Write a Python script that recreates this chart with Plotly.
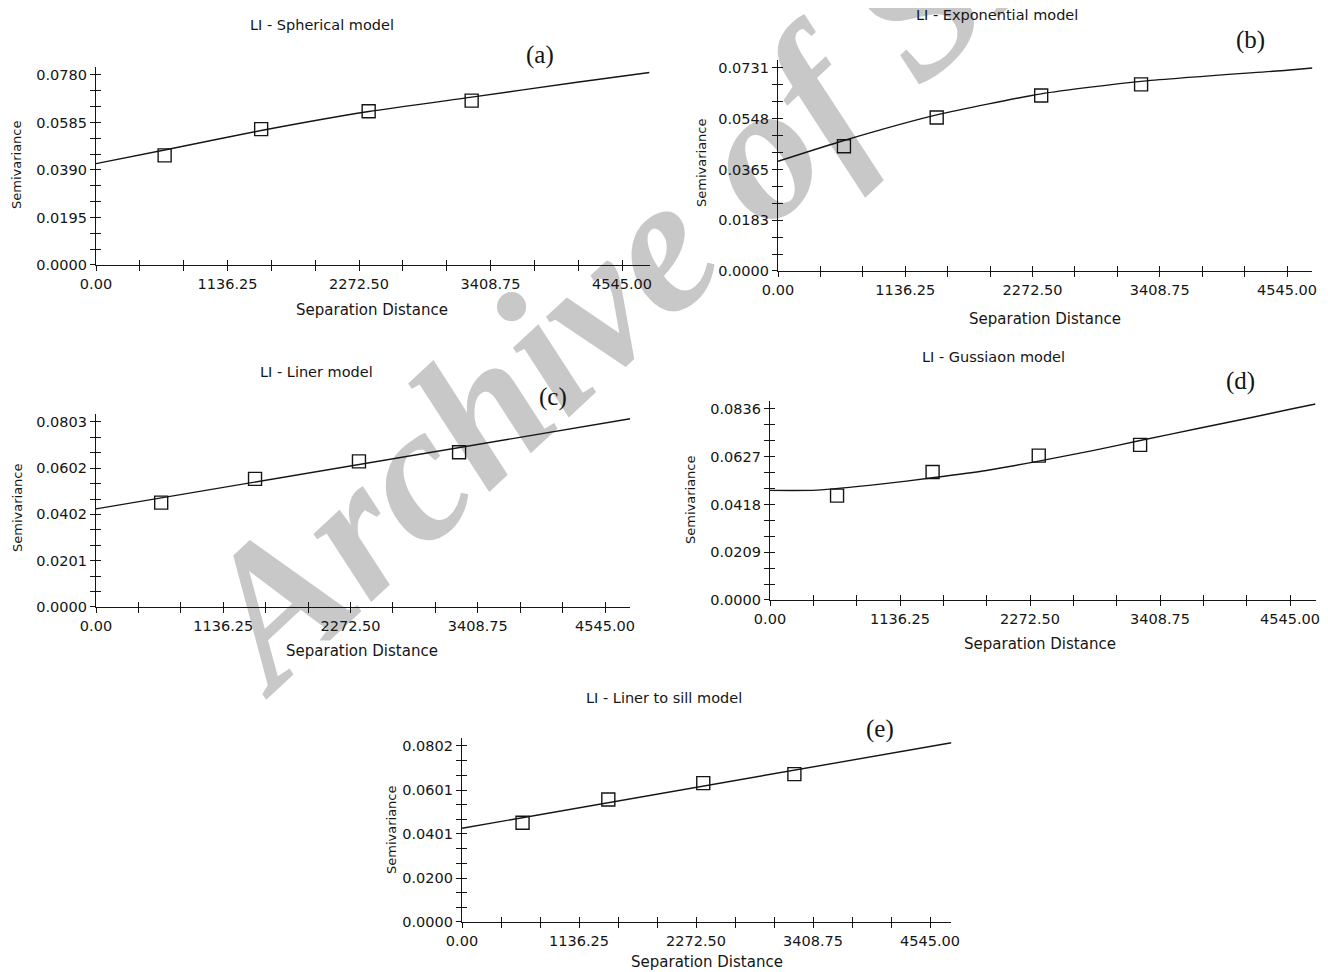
import plotly.graph_objects as go

# ---------------- data ----------------
titles = ["LI - Spherical model", "LI - Exponential model", "LI - Liner model",
          "LI - Gussiaon model", "LI - Liner to sill model"]
panel_tags = ["(a)", "(b)", "(c)", "(d)", "(e)"]
x_title = "Separation Distance"
y_title = "Semivariance"
watermark = "Archive of SID"

x_tick_labels = ["0.00", "1136.25", "2272.50", "3408.75", "4545.00"]

y_ticks_a = ["0.0000", "0.0195", "0.0390", "0.0585", "0.0780"]
y_ticks_b = ["0.0000", "0.0183", "0.0365", "0.0548", "0.0731"]
y_ticks_c = ["0.0000", "0.0201", "0.0402", "0.0602", "0.0803"]
y_ticks_d = ["0.0000", "0.0209", "0.0418", "0.0627", "0.0836"]
y_ticks_e = ["0.0000", "0.0200", "0.0401", "0.0601", "0.0802"]

# empirical semivariogram points
lag_a = [593, 1427, 2356, 3246]
gamma_a = [0.0450, 0.0558, 0.0631, 0.0675]
lag_b = [589, 1417, 2350, 3242]
gamma_b = [0.0449, 0.0553, 0.0632, 0.0672]
lag_c = [582, 1420, 2348, 3242]
gamma_c = [0.0453, 0.0556, 0.0632, 0.0672]
lag_d = [586, 1421, 2349, 3235]
gamma_d = [0.0457, 0.0560, 0.0632, 0.0679]
lag_e = [588, 1421, 2343, 3228]
gamma_e = [0.0452, 0.0558, 0.0633, 0.0674]

# fitted model curves
model_x_a = [0, 593, 1427, 2356, 3246, 4140, 4783]
model_y_a = [0.0416, 0.0472, 0.0552, 0.0630, 0.0689, 0.0749, 0.0790]
model_x_b = [0, 589, 1417, 2350, 3242, 4545, 4772]
model_y_b = [0.0395, 0.0470, 0.0562, 0.0638, 0.0683, 0.0723, 0.0731]
model_x_c = [0, 4770]
model_y_c = [0.0426, 0.0817]
model_x_d = [0, 408, 965, 1421, 1892, 2349, 2820, 3235, 3750, 4230, 4545, 4768]
model_y_d = [0.0480, 0.0481, 0.0507, 0.0535, 0.0567, 0.0608, 0.0654, 0.0698,
             0.0752, 0.0801, 0.0835, 0.0858]
model_x_e = [0, 4753]
model_y_e = [0.0427, 0.0817]

# axis extents
x_max = [4783, 4772, 4770, 4768, 4753]
y_max = [0.0814, 0.0761, 0.0836, 0.0872, 0.0837]

# ---------------- layout geometry (window pixels) ----------------
WIN_W, WIN_H = 1328, 972
OFF = 8                      # page body margin of the html page
W, H = WIN_W - OFF, WIN_H - OFF
# left(y-axis px), px of x=4545, bottom(x-axis px), px of top y label
geom = [
    (96, 622, 265, 75),
    (778, 1287, 271, 68),
    (96, 605, 607, 422),
    (770, 1290, 600, 409),
    (462, 930, 922, 746),
]
title_pos = [(322, 25), (997, 15), (316, 372), (993, 357), (664, 698)]
tag_pos = [(540, 55), (1250, 40), (553, 397), (1240, 381), (880, 729)]
xt_pos = [(372, 310), (1045, 319), (362, 651), (1040, 644), (707, 962)]
yt_pos = [(17, 165), (702, 163), (17, 508), (691, 500), (391, 830)]

lags = [lag_a, lag_b, lag_c, lag_d, lag_e]
gammas = [gamma_a, gamma_b, gamma_c, gamma_d, gamma_e]
mxs = [model_x_a, model_x_b, model_x_c, model_x_d, model_x_e]
mys = [model_y_a, model_y_b, model_y_c, model_y_d, model_y_e]
yticks = [y_ticks_a, y_ticks_b, y_ticks_c, y_ticks_d, y_ticks_e]

INK = "#151515"
FONT = "DejaVu Sans, Verdana, sans-serif"
SERIF = "Liberation Serif, Times New Roman, serif"


def px(x):
    return (x - OFF) / W


def py(y):
    return 1 - (y - OFF) / H


def thirds(vals):
    out = []
    for a, b in zip(vals[:-1], vals[1:]):
        out += [a + (b - a) / 3, a + 2 * (b - a) / 3]
    return out


fig = go.Figure()
layout = dict(
    template="none",
    width=W, height=H,
    margin=dict(l=0, r=0, t=0, b=0, pad=0),
    paper_bgcolor="white",
    plot_bgcolor="rgba(0,0,0,0)",
    showlegend=False,
    font=dict(family=FONT, color=INK, size=14),
)
annotations = []

x_vals = [float(v) for v in x_tick_labels]
x_minor = thirds(x_vals)

for i in range(5):
    n = i + 1
    m = i + 6
    left, r4545, bottom, ytop_px = geom[i]
    yv = [float(v) for v in yticks[i]]
    xdom = [px(left), px(left + (r4545 - left) * x_max[i] / 4545.0)]
    ydom = [py(bottom), py(bottom - (bottom - ytop_px) * y_max[i] / yv[-1])]
    y_minor = thirds(yv)

    common = dict(showgrid=False, zeroline=False, automargin=False,
                  tickcolor=INK, tickwidth=1.3, ticklen=5)
    layout[f"xaxis{n}"] = dict(
        domain=xdom, range=[0, x_max[i]], anchor=f"y{n}",
        tickmode="array", tickvals=x_vals, ticktext=x_tick_labels,
        ticks="outside", showline=True, linecolor=INK, linewidth=1.3,
        tickfont=dict(size=14.5, color=INK, family=FONT),
        minor=dict(tickvals=x_minor, ticks="outside", ticklen=5, tickcolor=INK, tickwidth=1.3),
        **common)
    layout[f"yaxis{n}"] = dict(
        domain=ydom, range=[0, y_max[i]], anchor=f"x{n}",
        tickmode="array", tickvals=yv, ticktext=yticks[i],
        ticks="outside", showline=True, linecolor=INK, linewidth=1.3,
        tickfont=dict(size=14.5, color=INK, family=FONT),
        minor=dict(tickvals=y_minor, ticks="outside", ticklen=5, tickcolor=INK, tickwidth=1.3),
        **common)
    # overlay axes so that the ticks cross the axis line
    layout[f"xaxis{m}"] = dict(
        domain=xdom, range=[0, x_max[i]], anchor=f"y{n}", overlaying=f"x{n}",
        tickmode="array", tickvals=x_vals, ticks="inside", showticklabels=False,
        showline=False,
        minor=dict(tickvals=x_minor, ticks="inside", ticklen=5, tickcolor=INK, tickwidth=1.3),
        **common)
    layout[f"yaxis{m}"] = dict(
        domain=ydom, range=[0, y_max[i]], anchor=f"x{n}", overlaying=f"y{n}",
        tickmode="array", tickvals=yv, ticks="inside", showticklabels=False,
        showline=False,
        minor=dict(tickvals=y_minor, ticks="inside", ticklen=5, tickcolor=INK, tickwidth=1.3),
        **common)

    fig.add_trace(go.Scatter(x=[None], y=[None], xaxis=f"x{m}", yaxis=f"y{m}",
                             mode="markers", hoverinfo="skip", showlegend=False))
    fig.add_trace(go.Scatter(x=mxs[i], y=mys[i], mode="lines",
                             line=dict(color=INK, width=1.4, shape="spline", smoothing=0.6),
                             xaxis=f"x{n}", yaxis=f"y{n}"))
    fig.add_trace(go.Scatter(x=lags[i], y=gammas[i], mode="markers",
                             marker=dict(symbol="square-open", size=13, color=INK,
                                         line=dict(width=1.4, color=INK)),
                             xaxis=f"x{n}", yaxis=f"y{n}"))

    annotations.append(dict(text=titles[i], x=px(title_pos[i][0]), y=py(title_pos[i][1]),
                            xref="paper", yref="paper", showarrow=False,
                            xanchor="center", yanchor="middle",
                            font=dict(size=14.5, family=FONT, color=INK)))
    annotations.append(dict(text=panel_tags[i], x=px(tag_pos[i][0]), y=py(tag_pos[i][1]),
                            xref="paper", yref="paper", showarrow=False,
                            xanchor="center", yanchor="middle",
                            font=dict(size=25, family=SERIF, color=INK)))
    annotations.append(dict(text=x_title, x=px(xt_pos[i][0]), y=py(xt_pos[i][1]),
                            xref="paper", yref="paper", showarrow=False,
                            xanchor="center", yanchor="middle", bgcolor="white",
                            font=dict(size=15, family=FONT, color=INK)))
    annotations.append(dict(text=y_title, x=px(yt_pos[i][0]), y=py(yt_pos[i][1]),
                            xref="paper", yref="paper", showarrow=False, textangle=-90,
                            xanchor="center", yanchor="middle",
                            font=dict(size=13, family=FONT, color=INK)))

layout["annotations"] = annotations

# watermark drawn beneath the plots
wm_cx, wm_cy = 656, 218
layout["shapes"] = [dict(
    type="rect", xref="paper", yref="paper",
    x0=px(wm_cx - 5), x1=px(wm_cx + 5), y0=py(wm_cy + 5), y1=py(wm_cy - 5),
    line=dict(width=0), fillcolor="rgba(0,0,0,0)", layer="below",
    label=dict(text=watermark, textangle=-43, textposition="middle center",
               font=dict(size=194, family=SERIF, color="#c8c8c8",
                         weight="bold", style="italic")),
)]

fig.update_layout(**layout)
fig.write_html("out.html")
